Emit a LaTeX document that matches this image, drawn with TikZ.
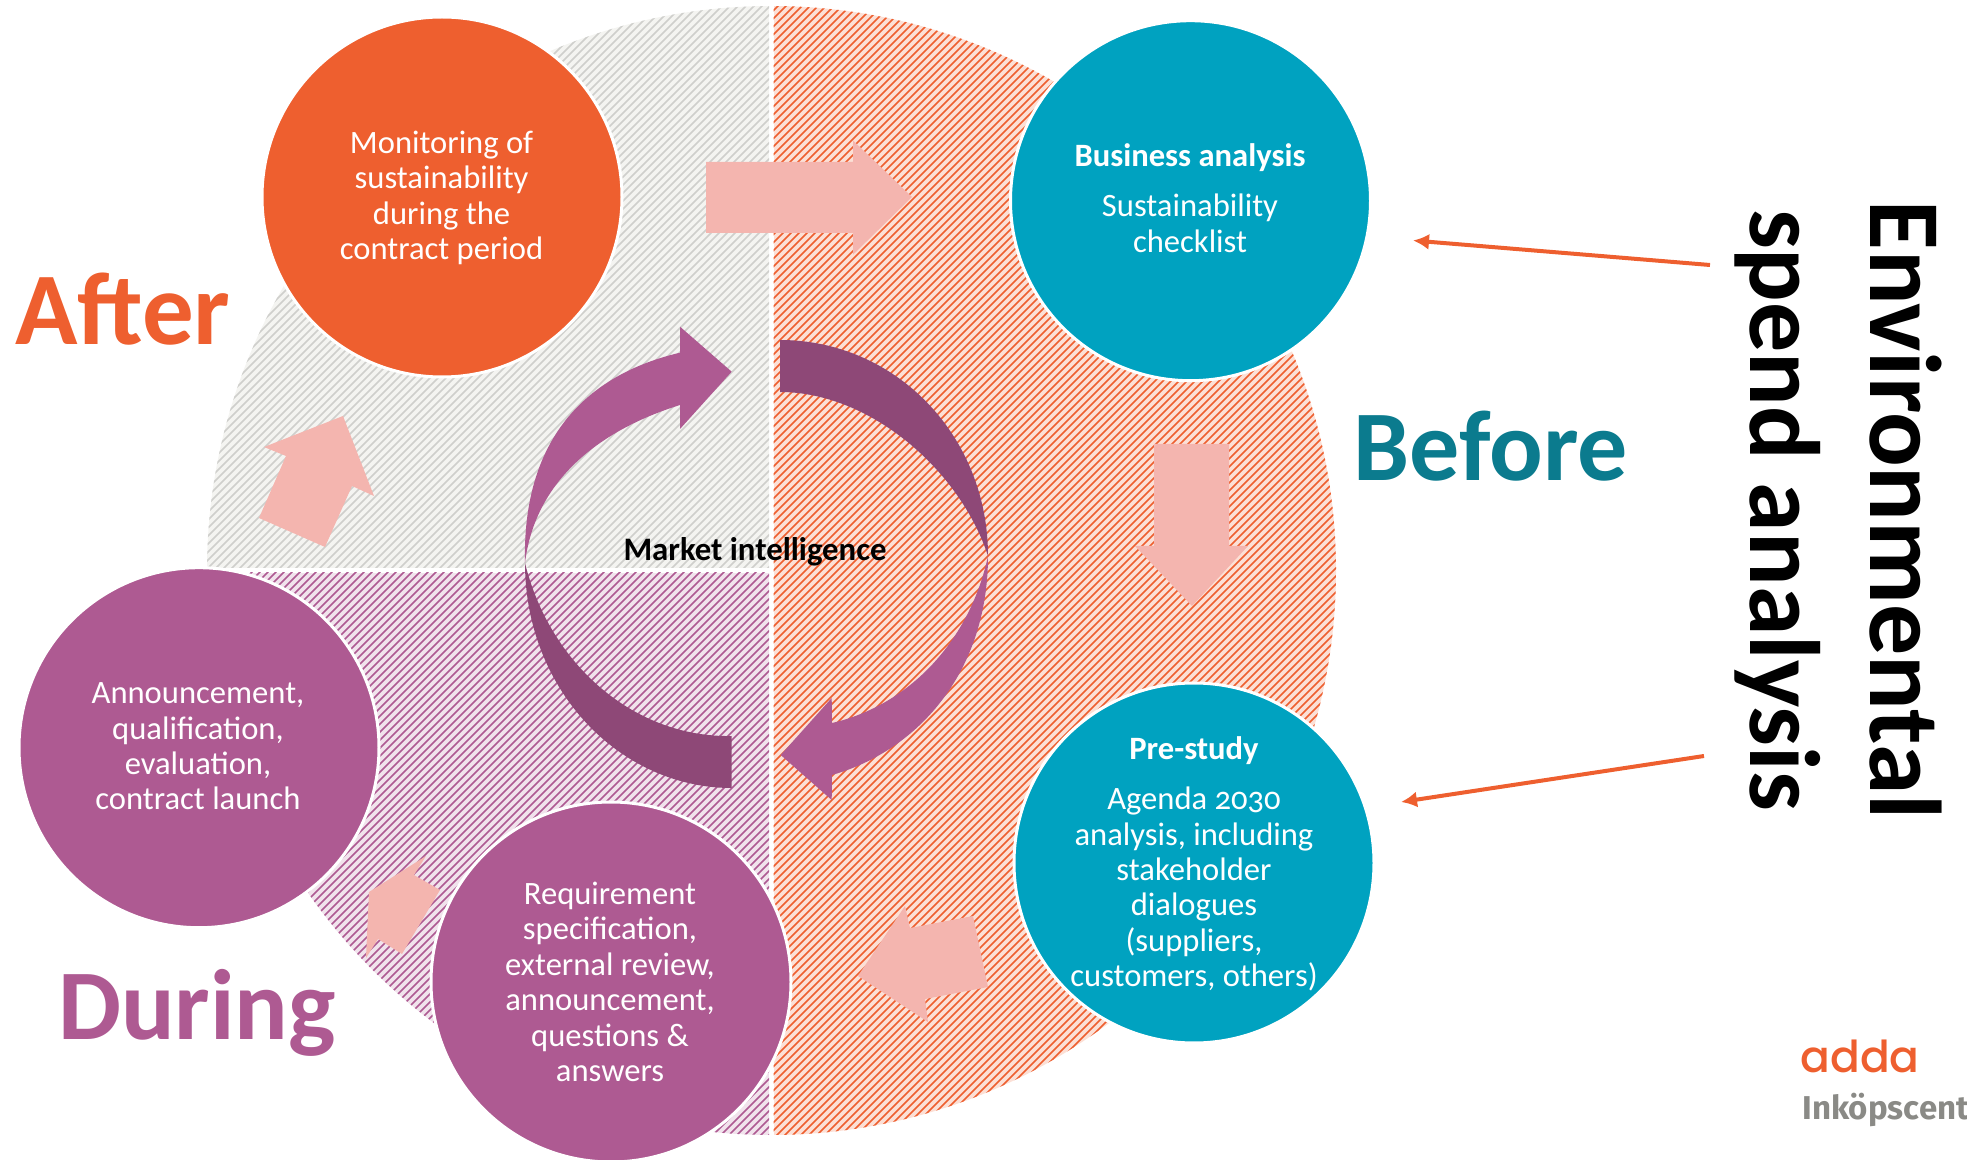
\documentclass[tikz,border=0pt]{standalone}
\usepackage{fontspec}
\setmainfont{Carlito}
\newfontfamily\oldnum[Numbers=OldStyle]{Carlito}
\newfontfamily\logofont{Poppins Medium}
\newfontfamily\centfont{Fira Sans}
\usetikzlibrary{arrows.meta}
\definecolor{cOrange}{HTML}{EE5F2F}
\definecolor{cTeal}{HTML}{00A2C0}
\definecolor{cTealDark}{HTML}{0B7B8E}
\definecolor{cPurple}{HTML}{AE5A92}
\definecolor{cPurpleDark}{HTML}{8E4877}
\definecolor{cPink}{HTML}{F4B5AF}
\definecolor{cGreyBg}{HTML}{F4F4F1}
\definecolor{cGreyLine}{HTML}{CFCFCC}
\definecolor{cOrangeBg}{HTML}{FCE0D6}
\definecolor{cPurpleBg}{HTML}{F1E3EC}
\definecolor{cLogoGrey}{HTML}{8A8A86}
\tikzset{
  phase/.style={circle,minimum size=180pt,inner sep=0pt,draw=white,line width=1.5pt},
  phasetext/.style={text=white,align=center,inner sep=0pt,font=\fontsize{16.3}{17.7}\selectfont},
  bigword/.style={font=\fontsize{50}{60}\selectfont\bfseries},
  pinkarrow/.style={fill=cPink,draw=none},
  swirl/.style={fill=cPurple,draw=none},
  swirldark/.style={fill=cPurpleDark,draw=none},
  pointer/.style={draw=cOrange,line width=2pt,-{Latex[length=8pt,width=8pt]}},
}
\newcommand{\hatchlines}[3]{%
  \foreach \i in {#2,#3,...,1967} {\draw[#1,line width=0.85pt] (\i,1160) -- ++(1170,-1170);}%
}
\begin{document}
\begin{tikzpicture}[x=0.5pt,y=-0.5pt]
\useasboundingbox (0,0) rectangle (1967,1160);
% quadrants
\begin{scope}
  \clip (771.5,570.5) circle (564.5);
  \begin{scope}
    \clip (0,0) rectangle (769,568);
    \fill[cGreyBg] (0,0) rectangle (769,568);
    \hatchlines{cGreyLine}{-1000}{-992}
  \end{scope}
  \begin{scope}
    \clip (0,573) rectangle (769,1160);
    \fill[cPurpleBg] (0,573) rectangle (769,1160);
    \hatchlines{cPurple}{-1000}{-992}
  \end{scope}
  \begin{scope}
    \clip (773.5,0) rectangle (1400,1160);
    \fill[cOrangeBg] (773.5,0) rectangle (1400,1160);
    \hatchlines{cOrange}{-1000}{-992}
  \end{scope}
\end{scope}
% swirl arrows
\fill[swirl] (525,563) .. controls (522,440) and (585,375) .. (680,352.7) -- (680,326.7) -- (731.7,371.7) -- (680,429) -- (680,405) .. controls (600,430) and (535,480) .. (525,563) -- cycle;
\fill[swirldark] (780,340) .. controls (895,340) and (988,435) .. (988,556) .. controls (960,470) and (870,392) .. (780,392) -- cycle;
\fill[swirl] (988,556) .. controls (988,670) and (920,750) .. (832,775) -- (831.7,800) -- (780.7,755) -- (831.7,698) -- (832,723) .. controls (910,705) and (970,640) .. (988,556) -- cycle;
\fill[swirldark] (731.7,788) .. controls (620,788) and (525,690) .. (525,563) .. controls (550,665) and (635,738) .. (731.7,736) -- cycle;
% pink arrows
\fill[pinkarrow] (706,162) -- (853,162) -- (853,140.5) -- (912,197) -- (853,254.7) -- (853,233) -- (706,233) -- cycle;
\fill[pinkarrow] (1154,444) -- (1229,444) -- (1229,546) -- (1248,546) -- (1192,606) -- (1135,546) -- (1154,546) -- cycle;
\fill[pinkarrow] (858,976) -- (905,906) -- (910,928) -- (973,916) -- (988,987) -- (925,999) -- (928,1022) -- cycle;
\fill[pinkarrow] (426,856) -- (414,875) -- (440,890) -- (402,954) -- (378,939) -- (366,958) -- (369,892) -- cycle;
\fill[pinkarrow] (343,416) -- (374,496) -- (352,486) -- (325,547) -- (259,518) -- (286,456) -- (264,447) -- cycle;
% phase circles
\node[phase,fill=cOrange] (monitor) at (442,197) {};
\node[phase,fill=cTeal] (business) at (1190.5,200.7) {};
\node[phase,fill=cTeal] (prestudy) at (1194,863) {};
\node[phase,fill=cPurple] (announce) at (199,747.7) {};
\node[phase,fill=cPurple] (require) at (611,982) {};
\node[phasetext] (monitortext) at (441.6,198) {Monitoring of\\sustainability\\during the\\contract period};
\node[phasetext] (businesstext) at (1190,198) {\textbf{Business analysis}\\[7.3pt]Sustainability\\checklist};
\node[phasetext] (prestudytext) at (1194,864) {\textbf{Pre-study}\\[7.3pt]Agenda {\oldnum 2030}\\analysis, including\\stakeholder\\dialogues\\(suppliers,\\customers, others)};
\node[phasetext] (announcetext) at (198,746.5) {Announcement,\\qualification,\\evaluation,\\contract launch};
\node[phasetext] (requiretext) at (610,982) {Requirement\\specification,\\external review,\\announcement,\\questions \&\\answers};
% labels
\node[font=\fontsize{16.4}{18}\selectfont\bfseries,text=black] (market) at (755,552) {Market intelligence};
\node[bigword,font=\fontsize{51.5}{60}\selectfont\bfseries,text=cOrange] (after) at (123,309) {After};
\node[bigword,text=cTealDark] (before) at (1491,446) {Before};
\node[bigword,text=cPurple] (during) at (197,1013) {During};
\node[rotate=-90,align=center,font=\fontsize{51}{60}\selectfont\bfseries,text=black] (spend) at (1838,510) {Environmental\\{\fontsize{50}{60}\selectfont spend analysis}};
% pointers
\coordinate (p1) at (1710,265);
\coordinate (p2) at (1704,756);
\coordinate (q1) at (1413,240.5);
\coordinate (q2) at (1401,802);
\draw[pointer] (p1) -- (q1);
\draw[pointer] (p2) -- (q2);
% logo
\node[anchor=base west,inner sep=0pt,text=cOrange,font=\fontsize{22}{24}\logofont] (adda) at (1800,1072) {adda};
\node[anchor=base west,inner sep=0pt,text=cLogoGrey,font=\fontsize{16.5}{18}\centfont\bfseries] (cent) at (1802,1119) {Inköpscent};
\end{tikzpicture}
\end{document}
